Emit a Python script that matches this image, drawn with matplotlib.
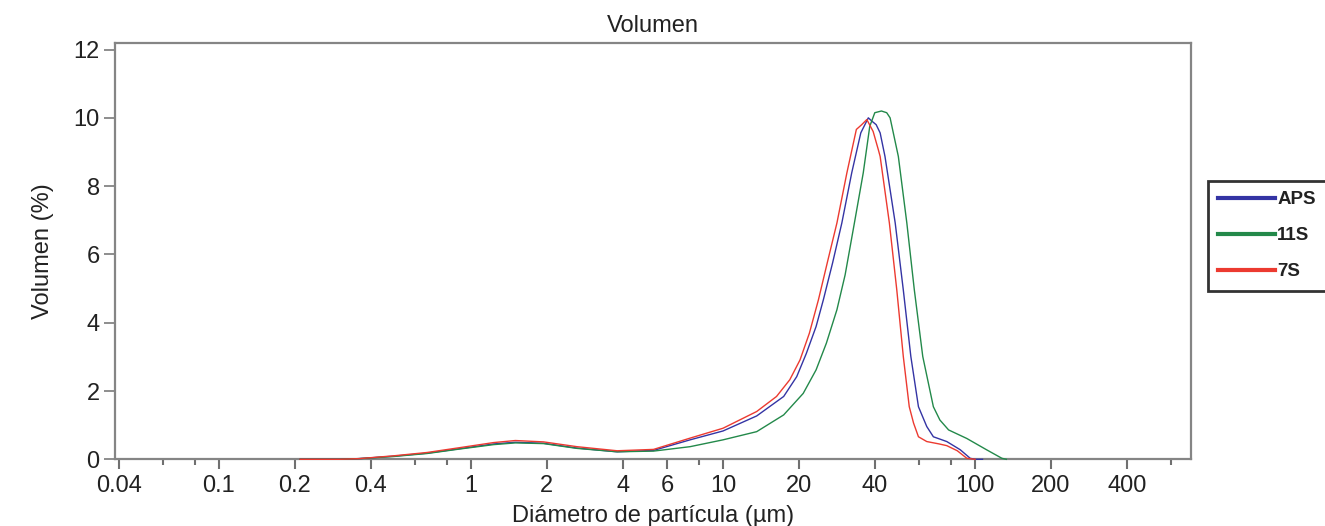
import matplotlib
matplotlib.use("Agg")
import matplotlib.pyplot as plt
import numpy as np

plt.rcParams['font.family'] = ['Liberation Sans', 'DejaVu Sans']

# particle diameter (um) and volume (%)
aps_d = [0.21, 0.3, 0.36, 0.49, 0.67, 0.9, 1.23, 1.5, 1.94, 2.63, 3.8, 5.3, 7.4, 10, 13.6, 17.4,
         19.6, 21.4, 23.4, 25.0, 27.2, 29.6, 32.4, 35.2, 37.7, 39, 40.5, 42, 43.9, 48.2, 51.9,
         55.6, 59.6, 64.3, 68.3, 77.2, 87.3, 95.6, 100, 107]
aps_v = [0, 0, 0.02, 0.09, 0.18, 0.31, 0.45, 0.5, 0.47, 0.33, 0.22, 0.26, 0.57, 0.83, 1.27, 1.84,
         2.42, 3.1, 3.89, 4.67, 5.75, 6.92, 8.39, 9.56, 10.0, 9.9, 9.8, 9.56, 8.87, 6.92, 4.96,
         3.01, 1.54, 0.96, 0.66, 0.52, 0.28, 0.03, 0, 0]

s11_d = [0.21, 0.3, 0.36, 0.49, 0.67, 0.9, 1.23, 1.5, 1.94, 2.63, 3.8, 5.3, 7.4, 10, 13.6, 17.4,
         20.8, 23.4, 25.7, 28.3, 30.5, 33.2, 36.0, 38.2, 40, 42.5, 44.6, 46, 49.6, 53.6, 57.4,
         62.0, 68.3, 72.5, 78.5, 92.7, 111, 127.7, 133]
s11_v = [0, 0, 0.02, 0.08, 0.17, 0.3, 0.43, 0.48, 0.46, 0.32, 0.22, 0.24, 0.37, 0.57, 0.81, 1.3,
         1.93, 2.62, 3.4, 4.38, 5.4, 6.92, 8.39, 9.75, 10.15, 10.2, 10.15, 10.0, 8.87, 6.92, 4.96,
         3.01, 1.54, 1.15, 0.86, 0.61, 0.28, 0.03, 0]

s7_d = [0.21, 0.3, 0.36, 0.49, 0.67, 0.9, 1.23, 1.5, 1.94, 2.63, 3.8, 5.3, 7.4, 10, 13.6, 16.3,
        18.4, 20.2, 22.0, 23.9, 26.0, 28.3, 31.0, 33.8, 35.5, 37.2, 39.4, 41.3, 42.0, 45.7, 48.9,
        51.9, 54.8, 57, 59.6, 64.3, 72, 77.2, 85, 92.7, 100]
s7_v = [0, 0, 0.02, 0.1, 0.2, 0.34, 0.49, 0.55, 0.51, 0.37, 0.25, 0.29, 0.62, 0.91, 1.4, 1.84,
        2.33, 2.91, 3.69, 4.67, 5.8, 6.92, 8.39, 9.66, 9.8, 9.95, 9.6, 9.07, 8.87, 6.92, 4.96,
        3.01, 1.54, 1.06, 0.66, 0.52, 0.45, 0.4, 0.25, 0.03, 0]

labels = ['APS', '11S', '7S']
colors = ['#3434a4', '#23894a', '#ec3a30']

major_ticks = [0.04, 0.1, 0.2, 0.4, 1, 2, 4, 6, 10, 20, 40, 100, 200, 400]
major_labels = ['0.04', '0.1', '0.2', '0.4', '1', '2', '4', '6', '10', '20', '40', '100', '200', '400']
minor_ticks = [0.06, 0.08, 0.6, 0.8, 8, 60, 80, 600]

fig = plt.figure(figsize=(13.25, 5.26), dpi=100)
ax = fig.add_axes([0.0868, 0.1268, 0.8121, 0.792])

lines = []
for d, v, lab, c in zip([aps_d, s11_d, s7_d], [aps_v, s11_v, s7_v], labels, colors):
    ln, = ax.plot(d, v, color=c, lw=1.0, label=lab, zorder=3, clip_on=False)
    lines.append(ln)

ax.set_xscale('log')
ax.set_xlim(0.0387, 719)
ax.set_ylim(0, 12.2)
ax.set_xticks(major_ticks)
ax.set_xticklabels(major_labels)
ax.set_xticks(minor_ticks, minor=True)
ax.xaxis.set_minor_formatter(matplotlib.ticker.NullFormatter())
ax.set_yticks(range(0, 13, 2))

for sp in ax.spines.values():
    sp.set_color('#858585')
    sp.set_linewidth(1.6)
ax.tick_params(axis='x', which='major', length=7, width=1.5, color='#707070',
               labelsize=17, labelcolor='#222222', pad=4)
ax.tick_params(axis='x', which='minor', length=4, width=1.5, color='#707070')
ax.tick_params(axis='y', length=8, width=1.3, color='#858585',
               labelsize=17, labelcolor='#222222', pad=3)

ax.set_title('Volumen', fontsize=17, color='#222222', pad=8)
ax.set_xlabel('Diámetro de partícula (µm)', fontsize=17, color='#222222', labelpad=6)
ax.set_ylabel('Volumen (%)', fontsize=17, color='#222222', labelpad=14)

leg = fig.legend(lines, labels, loc='upper left', bbox_to_anchor=(1208 / 1325, 1 - 181 / 526),
                 frameon=True, fancybox=False, handlelength=3.0, handletextpad=0.15,
                 labelspacing=1.0, borderpad=0.55, borderaxespad=0,
                 prop={'size': 13.5, 'weight': 'bold'})
leg.get_frame().set_edgecolor('black')
leg.get_frame().set_linewidth(2)
for h in leg.legend_handles:
    h.set_linewidth(3)
for t in leg.get_texts():
    t.set_color('#222222')

fig.savefig('out.png', dpi=100)
